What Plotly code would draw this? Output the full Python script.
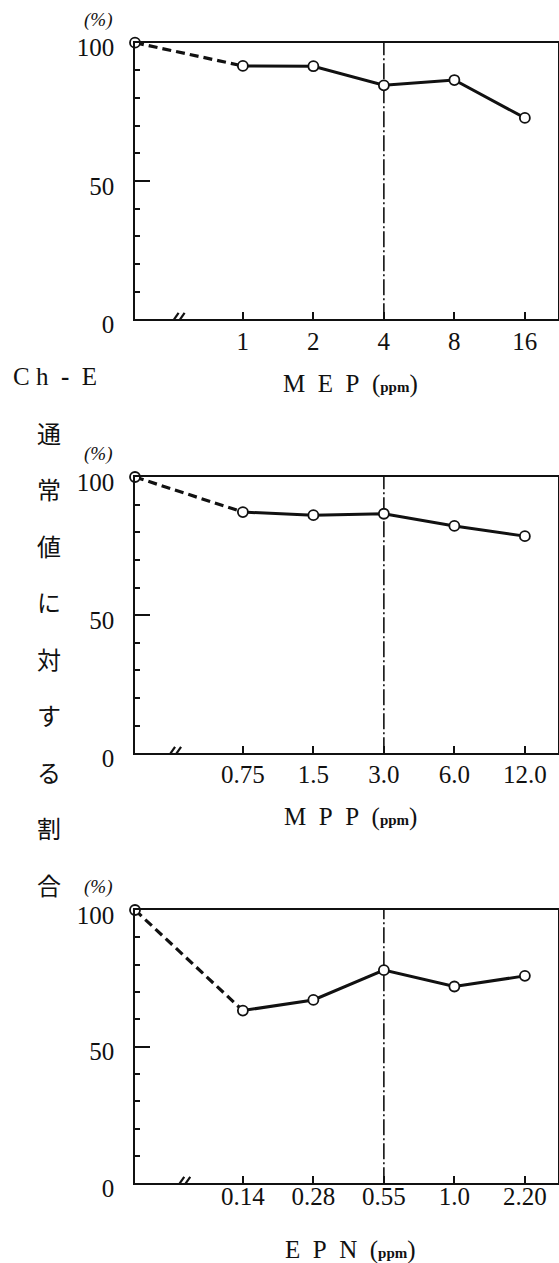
import plotly.graph_objects as go

W, H = 559, 1263

# Ch-E activity as percent of the normal (control) value
control = 100
mep_doses = ["1", "2", "4", "8", "16"]
mep_values = [91.6, 91.5, 84.6, 86.5, 72.8]
mpp_doses = ["0.75", "1.5", "3.0", "6.0", "12.0"]
mpp_values = [87.3, 86.2, 86.7, 82.3, 78.6]
epn_doses = ["0.14", "0.28", "0.55", "1.0", "2.20"]
epn_values = [63.2, 67.1, 78.0, 72.0, 75.9]
y_tick_values = [0, 50, 100]
y_minor_values = [10, 20, 30, 40, 60, 70, 80, 90]
x_titles = ["M\u00a0\u00a0E\u00a0\u00a0P", "M\u00a0\u00a0P\u00a0\u00a0P", "E\u00a0\u00a0P\u00a0\u00a0N"]
side_label = "通常値に対する割合"

panels = [
    (mep_doses, mep_values, x_titles[0]),
    (mpp_doses, mpp_values, x_titles[1]),
    (epn_doses, epn_values, x_titles[2]),
]

# pixel layout of each panel: (top of box = 100 %, bottom of box = 0 %)
boxes = [(42.7, 319.3), (477.0, 753.3), (910.0, 1183.3)]
title_rows = [384, 817, 1250]
label_standoff = [-1, -2, -10]
break_at = [0.59, 0.54, 0.67]
x_left, x_right = 135.0, 558.0
first_pos = 1.53          # gap (in dose steps) between the control and the first dose
x_span = 6.0
ref_index = 2             # dose marked by the dash-dot line

SERIF = "Liberation Serif"
CJK = "Noto Sans CJK JP"
INK = "#111111"


def py(p):
    return 1 - p / H


def px(p):
    return p / W


fig = go.Figure()
shapes = []
annotations = []

for k, (doses, values, title) in enumerate(panels):
    n = "" if k == 0 else str(k + 1)
    xa, ya = "x" + n, "y" + n
    pos = [first_pos + i for i in range(len(doses))]

    # control -> first dose (dashed)
    fig.add_trace(go.Scatter(
        x=[0, pos[0]], y=[control, values[0]], mode="lines",
        line=dict(color=INK, width=3.2, dash="9px,5px"),
        xaxis=xa, yaxis=ya, showlegend=False, cliponaxis=False,
        hoverinfo="skip"))
    # dose series (solid)
    fig.add_trace(go.Scatter(
        x=pos, y=values, mode="lines",
        line=dict(color=INK, width=3),
        xaxis=xa, yaxis=ya, showlegend=False, cliponaxis=False))
    # open circle markers
    fig.add_trace(go.Scatter(
        x=[0] + pos, y=[control] + values, mode="markers",
        marker=dict(symbol="circle", size=10, color="white",
                    line=dict(color=INK, width=1.8)),
        xaxis=xa, yaxis=ya, showlegend=False, cliponaxis=False))

    top, bottom = boxes[k]
    xaxis = dict(
        domain=[px(x_left), px(x_right)], range=[0, x_span], anchor=ya,
        tickmode="array", tickvals=pos, ticktext=doses,
        ticks="inside", ticklen=8, tickwidth=1.5, tickcolor=INK,
        showline=True, mirror=True, linecolor=INK, linewidth=1.6,
        showgrid=False, zeroline=False, fixedrange=True, automargin=False,
        tickfont=dict(family=SERIF, size=25, color=INK),
        ticklabelstandoff=label_standoff[k],
    )
    yaxis = dict(
        domain=[py(bottom), py(top)], range=[0, 100], anchor=xa,
        tickmode="array", tickvals=y_tick_values,
        ticks="inside", ticklen=15, tickwidth=1.5, tickcolor=INK,
        minor=dict(tickmode="array", tickvals=y_minor_values,
                   ticks="inside", ticklen=5, tickwidth=1.5, tickcolor=INK),
        showline=True, mirror=True, linecolor=INK, linewidth=1.6,
        showgrid=False, zeroline=False, fixedrange=True, automargin=False,
        tickfont=dict(family=SERIF, size=25, color=INK),
        ticklabelstandoff=14, ticklabelshift=5,
    )
    fig.layout["xaxis" + n] = xaxis
    fig.layout["yaxis" + n] = yaxis

    # dash-dot reference line at the marked dose
    shapes.append(dict(
        type="line", xref=xa, yref=ya, x0=pos[ref_index], x1=pos[ref_index],
        y0=0, y1=100, layer="below",
        line=dict(color=INK, width=1.6, dash="16px,3px,2px,3px")))

    # axis break mark "//" on the bottom axis
    for dx in (0, 6):
        shapes.append(dict(
            type="line", xref=xa, yref=ya,
            xsizemode="pixel", xanchor=break_at[k], x0=-7 + dx, x1=2 + dx,
            ysizemode="pixel", yanchor=0, y0=-6.5, y1=6.5,
            line=dict(color=INK, width=2.2)))

    # unit label above the y axis
    annotations.append(dict(
        text="<i>(%)</i>", xref="paper", yref="paper",
        x=px(98), y=py(top - 23), xanchor="center", yanchor="middle",
        showarrow=False, font=dict(family=SERIF, size=19, color=INK)))

    # x axis title
    annotations.append(dict(
        text=title + "\u00a0\u00a0(<span style='font-size:15px'><b>ppm</b></span>)",
        xref="paper", yref="paper",
        x=px(350), y=py(title_rows[k]), xanchor="center", yanchor="middle",
        showarrow=False, font=dict(family=SERIF, size=25, color=INK)))

annotations.append(dict(
    text="C\u00a0h\u00a0\u00a0<b>-</b>\u00a0\u00a0E", xref="paper", yref="paper",
    x=px(55), y=py(377), xanchor="center", yanchor="middle",
    showarrow=False, font=dict(family=SERIF, size=25, color=INK)))

for i, ch in enumerate(side_label):
    annotations.append(dict(
        text=ch, xref="paper", yref="paper",
        x=px(49), y=py(432 + i * 56.5), xanchor="center", yanchor="middle",
        showarrow=False, font=dict(family=CJK, size=24, color=INK)))

fig.update_layout(
    width=W, height=H, autosize=False,
    margin=dict(l=0, r=0, t=0, b=0, pad=0, autoexpand=False),
    paper_bgcolor="white", plot_bgcolor="white",
    shapes=shapes, annotations=annotations,
    showlegend=False,
)

fig.write_html("out.html", config={"displayModeBar": False})
